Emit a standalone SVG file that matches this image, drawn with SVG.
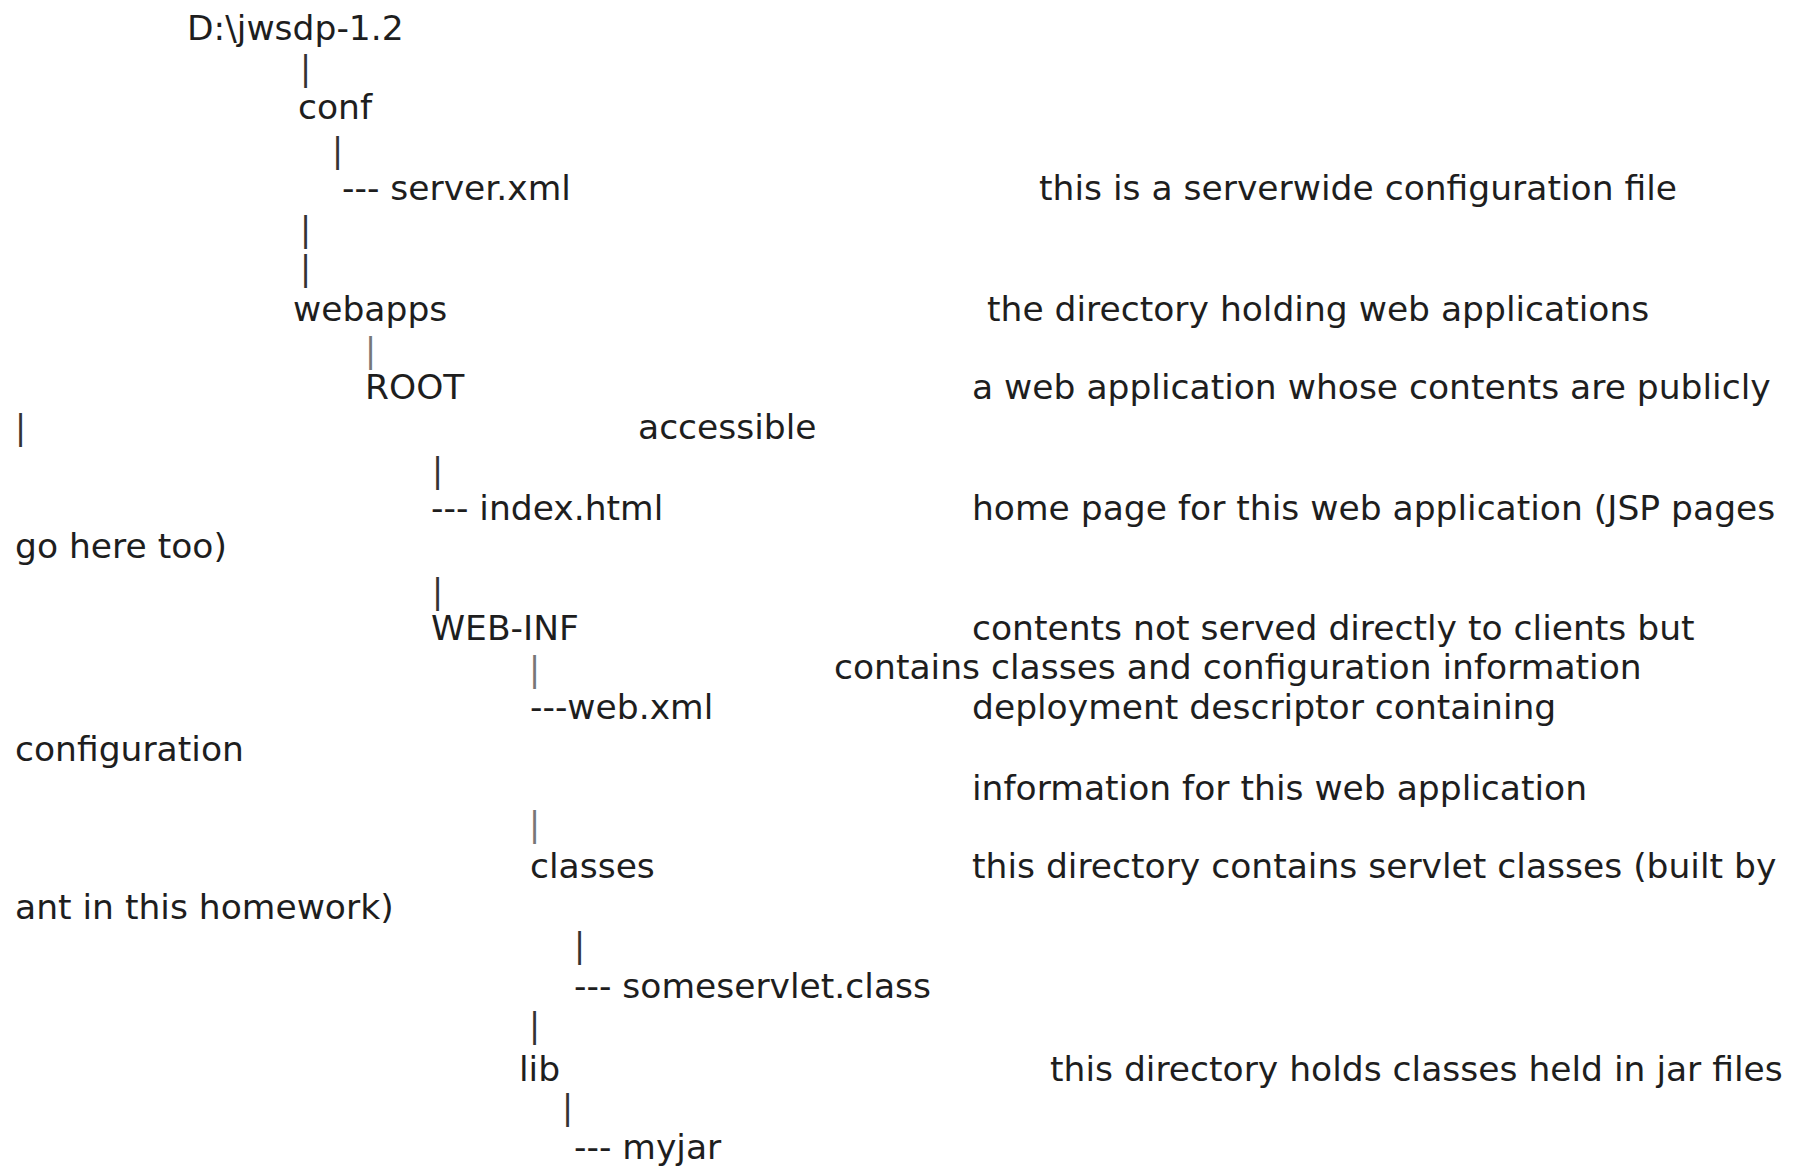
<svg xmlns="http://www.w3.org/2000/svg" width="1799" height="1168" viewBox="0 0 1799 1168">
<style>
text{font-family:"DejaVu Sans","Liberation Sans",sans-serif;font-size:34.5px;fill:#1e1e1e}
.bar{fill:#333;font-size:33px}
.grey{fill:#777;font-size:33px}
</style>
<rect width="1799" height="1168" fill="#fff"/>
<g id="connectors">
<text class="bar" x="300" y="80">|</text>
<text class="bar" x="332" y="162">|</text>
<text class="bar" x="300" y="241">|</text>
<text class="bar" x="300" y="280">|</text>
<text class="grey" x="365" y="362">|</text>
<text class="bar" x="15" y="439">|</text>
<text class="bar" x="432" y="482">|</text>
<text class="bar" x="432" y="603">|</text>
<text class="grey" x="529" y="681">|</text>
<text class="grey" x="529" y="836">|</text>
<text class="bar" x="574" y="957">|</text>
<text class="bar" x="529" y="1037">|</text>
<text class="bar" x="562" y="1119">|</text>
</g>
<g id="root"><text x="187" y="40">D:\jwsdp-1.2</text></g>
<g id="conf"><text x="298" y="119">conf</text></g>
<g id="server-xml"><text x="342" y="200">--- server.xml</text><text x="1039" y="200">this is a serverwide configuration file</text></g>
<g id="webapps"><text x="293" y="321">webapps</text><text x="987" y="321">the directory holding web applications</text></g>
<g id="ROOT"><text x="365" y="399">ROOT</text><text x="972" y="399">a web application whose contents are publicly</text><text x="638" y="439">accessible</text></g>
<g id="index-html"><text x="431" y="520">--- index.html</text><text x="972" y="520">home page for this web application (JSP pages</text><text x="15" y="558">go here too)</text></g>
<g id="WEB-INF"><text x="431" y="640">WEB-INF</text><text x="972" y="640">contents not served directly to clients but</text><text x="834" y="679">contains classes and configuration information</text></g>
<g id="web-xml"><text x="530" y="719">---web.xml</text><text x="972" y="719">deployment descriptor containing</text><text x="15" y="761">configuration</text><text x="972" y="800">information for this web application</text></g>
<g id="classes"><text x="530" y="878">classes</text><text x="972" y="878">this directory contains servlet classes (built by</text><text x="15" y="919">ant in this homework)</text></g>
<g id="someservlet"><text x="574" y="998">--- someservlet.class</text></g>
<g id="lib"><text x="519" y="1081">lib</text><text x="1050" y="1081">this directory holds classes held in jar files</text></g>
<g id="myjar"><text x="574" y="1159">--- myjar</text></g>
</svg>
